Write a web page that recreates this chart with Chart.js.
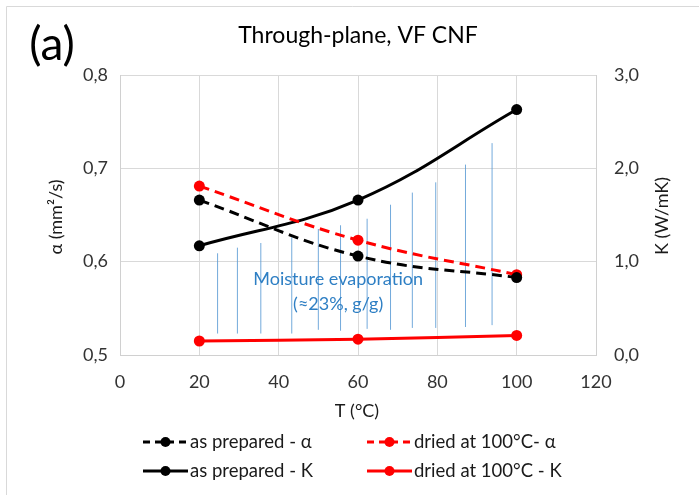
<!DOCTYPE html>
<html>
<head>
<meta charset="utf-8">
<script src="https://cdn.jsdelivr.net/npm/chart.js@4"></script>
<style>body{margin:0;background:#fff}</style>
</head>
<body>
<canvas id="chart" width="699" height="495"></canvas>
<script>
// T (°C)
const temps = [20, 60, 100];
// diffusivity, mm2/s (left axis)
const alphaPrepared = [0.666, 0.606, 0.583];
const alphaDried = [0.681, 0.623, 0.586];
// conductivity, W/mK (right axis)
const kPrepared = [1.17, 1.66, 2.63];
const kDried = [0.15, 0.17, 0.21];

// vertical hatch for the moisture evaporation zone, in alpha units
const hatchX = [24.6, 29.6, 35.5, 43.3, 50.0, 55.6, 62.3, 68.2, 73.7, 79.6, 87.1, 93.8];
const hatchTop = [0.609, 0.615, 0.620, 0.626, 0.635, 0.639, 0.646, 0.661, 0.674, 0.685, 0.704, 0.727];
const hatchBottom = [0.523, 0.523, 0.523, 0.523, 0.527, 0.526, 0.528, 0.527, 0.529, 0.529, 0.530, 0.532];

const FONT = 'Lato, "Open Sans", sans-serif';

const pts = (xs, ys) => xs.map((x, i) => ({ x: x, y: ys[i] }));

// one segment per hatch line, separated by gaps
const hatchData = [];
hatchX.forEach((x, i) => {
  hatchData.push({ x: x, y: hatchBottom[i] }, { x: x, y: hatchTop[i] }, { x: x, y: null });
});

function series(label, ys, color, dashed, axis) {
  return {
    label: label,
    data: pts(temps, ys),
    yAxisID: axis,
    showLine: true,
    borderColor: color,
    backgroundColor: color,
    borderWidth: 3,
    borderDash: dashed ? [10, 6] : [],
    tension: 0.4,
    pointRadius: 5.5,
    pointHoverRadius: 5.5,
    pointBorderWidth: 0
  };
}

const decorations = {
  id: 'decorations',
  afterDraw(chart) {
    const ctx = chart.ctx;
    const x = chart.scales.x, yA = chart.scales.yA;
    ctx.save();

    // outer frame
    ctx.strokeStyle = '#d9d9d9';
    ctx.lineWidth = 1;
    ctx.beginPath();
    ctx.moveTo(6.5, 495); ctx.lineTo(6.5, 6.5); ctx.lineTo(699, 6.5);
    ctx.stroke();

    ctx.fillStyle = '#000';
    ctx.textAlign = 'center';
    ctx.textBaseline = 'middle';
    ctx.font = '46px ' + FONT;
    ctx.fillText('(a)', 52, 45);
    ctx.font = '23px ' + FONT;
    ctx.fillText('Through-plane, VF CNF', 358, 36);

    // axis titles
    ctx.fillStyle = '#1a1a1a';
    ctx.font = '18px ' + FONT;
    ctx.fillText('T (°C)', 357, 411);
    ctx.save();
    ctx.translate(56, 217);
    ctx.rotate(-Math.PI / 2);
    ctx.fillText('α (mm²/s)', 0, 0);
    ctx.restore();
    ctx.save();
    ctx.translate(662, 216);
    ctx.rotate(-Math.PI / 2);
    ctx.fillText('K (W/mK)', 0, 0);
    ctx.restore();

    // label over the hatch
    ctx.fillStyle = '#2e7fc4';
    ctx.font = '18px ' + FONT;
    const cx = x.getPixelForValue(55);
    ctx.fillText('Moisture evaporation', cx, yA.getPixelForValue(0.581));
    ctx.fillText('(≈23%, g/g)', cx, yA.getPixelForValue(0.554));

    // legend, two columns
    const slots = [[143, 442], [367, 442], [143, 471], [367, 471]];
    chart.data.datasets.slice(0, 4).forEach((ds, i) => {
      const [lx, ly] = slots[i];
      ctx.strokeStyle = ds.borderColor;
      ctx.fillStyle = ds.borderColor;
      ctx.lineWidth = 3;
      ctx.setLineDash(ds.borderDash.length ? [7, 5] : []);
      ctx.beginPath();
      ctx.moveTo(lx, ly); ctx.lineTo(lx + 45, ly);
      ctx.stroke();
      ctx.setLineDash([]);
      ctx.beginPath();
      ctx.arc(lx + 22.5, ly, 5, 0, Math.PI * 2);
      ctx.fill();
      ctx.fillStyle = '#1a1a1a';
      ctx.textAlign = 'left';
      ctx.font = '18.5px ' + FONT;
      ctx.fillText(ds.label, lx + 47, ly);
    });
    ctx.restore();
  }
};

const comma = v => v.toFixed(1).replace('.', ',');
const tickFont = { size: 18, family: FONT };

new Chart(document.getElementById('chart'), {
  type: 'scatter',
  data: {
    datasets: [
      series('as prepared - α', alphaPrepared, '#000000', true, 'yA'),
      series('dried at 100°C- α', alphaDried, '#ff0000', true, 'yA'),
      series('as prepared - K', kPrepared, '#000000', false, 'yK'),
      series('dried at 100°C - K', kDried, '#ff0000', false, 'yK'),
      {
        label: 'hatch',
        data: hatchData,
        yAxisID: 'yA',
        showLine: true,
        spanGaps: false,
        borderColor: 'rgba(91,155,213,0.85)',
        borderWidth: 1,
        pointRadius: 0,
        order: 10
      }
    ]
  },
  options: {
    responsive: false,
    animation: false,
    layout: { padding: { top: 75, left: 0, right: 0, bottom: 0 } },
    plugins: { legend: { display: false }, tooltip: { enabled: false } },
    scales: {
      x: {
        type: 'linear',
        min: 0, max: 120,
        ticks: { stepSize: 20, color: '#333', font: tickFont, padding: 16 },
        grid: { color: '#d9d9d9', drawTicks: false },
        border: { color: '#d0d0d0' },
        afterFit: s => { s.height = 140; }
      },
      yA: {
        position: 'left',
        min: 0.5, max: 0.8,
        ticks: { stepSize: 0.1, color: '#333', font: tickFont, padding: 12, callback: comma },
        grid: { color: '#d9d9d9', drawTicks: false },
        border: { color: '#d0d0d0' },
        afterFit: s => { s.width = 120; }
      },
      yK: {
        position: 'right',
        min: 0, max: 3,
        ticks: { stepSize: 1, color: '#333', font: tickFont, padding: 18, callback: comma },
        grid: { display: false, drawTicks: false },
        border: { color: '#d0d0d0' },
        afterFit: s => { s.width = 103; }
      }
    }
  },
  plugins: [decorations]
});
</script>
</body>
</html>
